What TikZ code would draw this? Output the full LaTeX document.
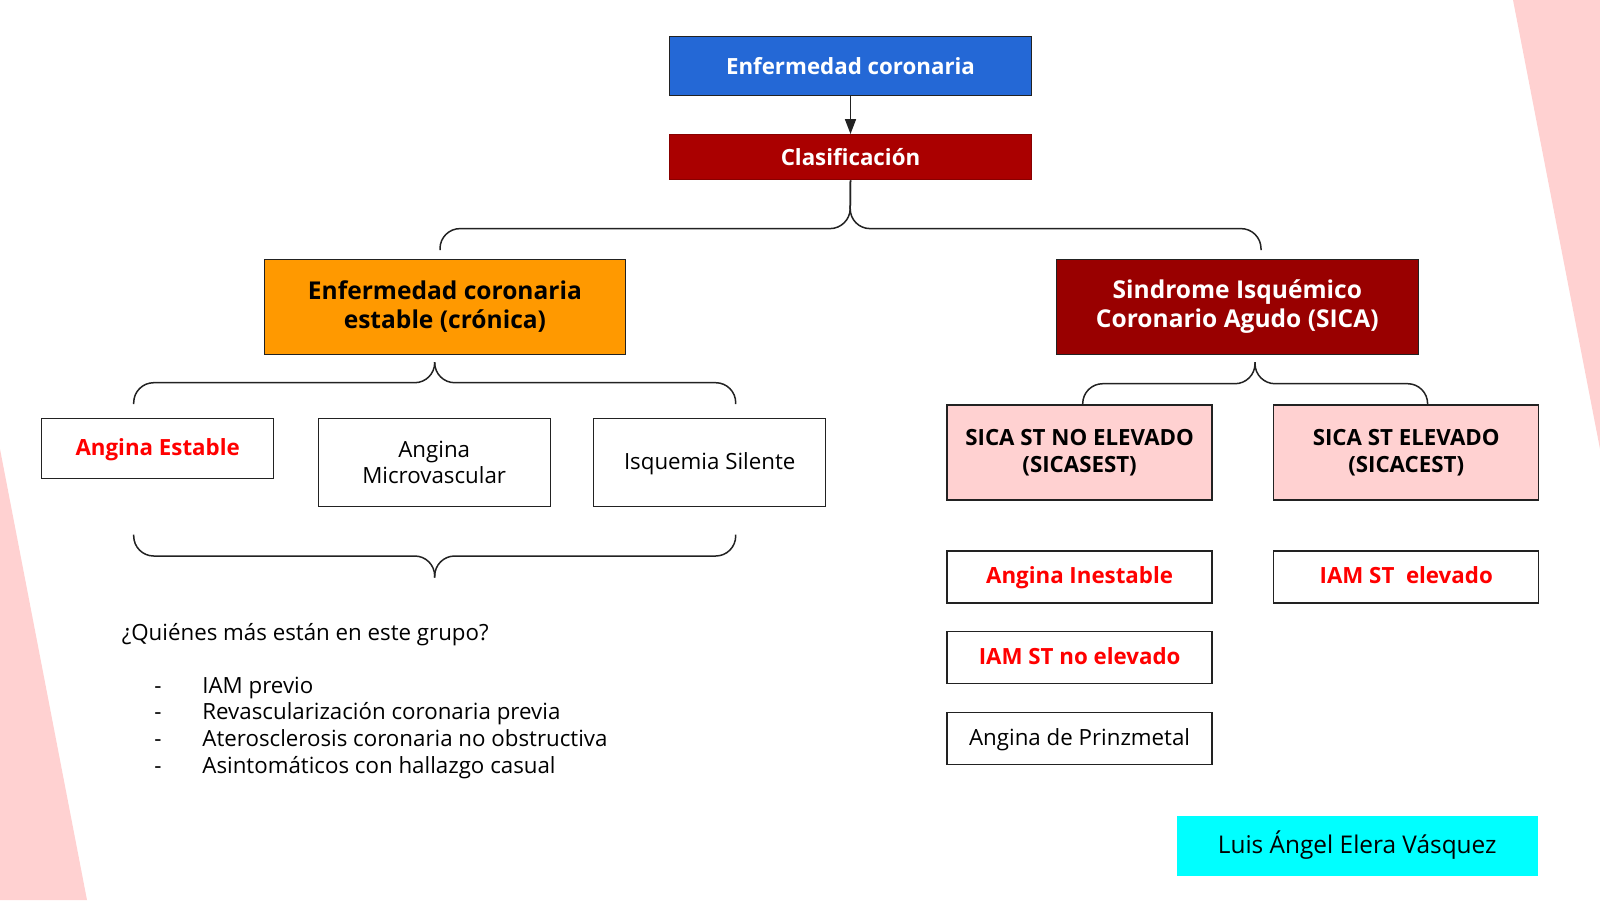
\documentclass[tikz,border=0pt]{standalone}
\usepackage{fontspec}
\setmainfont{Open Sans}
\usetikzlibrary{arrows.meta}
\definecolor{cblue}{HTML}{2468D6}
\definecolor{cred}{HTML}{AA0000}
\definecolor{corange}{HTML}{FF9900}
\definecolor{cdark}{HTML}{990000}
\definecolor{cpink}{HTML}{FFD1D1}
\definecolor{ccyan}{HTML}{00FFFF}
\definecolor{cline}{HTML}{222222}
\tikzset{
  box/.style={draw=cline, line width=0.65pt, inner sep=0pt, align=center},
  brc/.style={draw=cline, line width=0.75pt, rounded corners=10pt},
  hd/.style={font=\bfseries\fontsize{11.15}{14}\selectfont, text=white},
  big/.style={font=\bfseries\fontsize{12.27}{14.7}\selectfont},
  sm/.style={font=\bfseries\fontsize{11.15}{13.2}\selectfont},
  rg/.style={font=\fontsize{11.15}{13.2}\selectfont},
  redt/.style={sm, text=red},
  bw/.style={minimum width=116pt},
  rw/.style={minimum width=132.5pt},
  sl/.style={text height=0.76em, text depth=0.08em},
}
\begin{document}
\begin{tikzpicture}[x=0.5pt,y=-0.5pt]
\useasboundingbox (0,0) rectangle (1600,900);
% background decorations
\fill[cpink] (0,449) -- (87,900) -- (0,900) -- cycle;
\fill[cpink] (1513,0) -- (1600,0) -- (1600,449) -- cycle;

% top
\node[box, hd, fill=cblue, minimum width=181pt, minimum height=29.5pt] (top) at (850.5,66.3) {Enfermedad coronaria};
\node[box, hd, fill=cred, draw=cred!80!black, minimum width=181pt, minimum height=22.5pt] (clas) at (850.5,157.2) {Clasificación};
\draw[draw=cline, line width=0.8pt, -{Triangle[length=7.5pt,width=5.5pt]}] (top.south) -- (clas.north);

% level 2
\node[box, big, fill=corange, minimum width=180.5pt, minimum height=47.5pt] (est) at (444.9,306.7) {Enfermedad coronaria\\estable (crónica)};
\node[box, big, fill=cdark, text=white, minimum width=181pt, minimum height=47.5pt] (sica) at (1237.3,306.7) {Sindrome Isquémico\\Coronario Agudo (SICA)};

% brace 1
\coordinate (b1l) at (440,250);
\coordinate (b1r) at (1261,250);
\draw[brc] (clas.south) -- (850,228.6) -- (440,228.6) -- (b1l);
\draw[brc] (clas.south) -- (850,228.6) -- (1261,228.6) -- (b1r);

% level 3 left
\node[box, redt, bw, sl, minimum height=30pt] (ae) at (157.7,448.5) {Angina Estable};
\node[box, rg, bw, minimum height=44pt] (am) at (434.2,462.2) {Angina\\Microvascular};
\node[box, rg, bw, sl, minimum height=44pt] (isq) at (709.7,462.2) {Isquemia Silente};

% brace 2
\coordinate (b2t) at (434.7,362.2);
\coordinate (b2l) at (133.7,404);
\coordinate (b2r) at (735.7,404);
\draw[brc] (b2t) -- (434.7,382.7) -- (133.7,382.7) -- (b2l);
\draw[brc] (b2t) -- (434.7,382.7) -- (735.7,382.7) -- (b2r);

% brace 3
\coordinate (b3t) at (434.7,577.6);
\coordinate (b3l) at (133.7,534.7);
\coordinate (b3r) at (735.7,534.7);
\draw[brc] (b3t) -- (434.7,556) -- (133.7,556) -- (b3l);
\draw[brc] (b3t) -- (434.7,556) -- (735.7,556) -- (b3r);

% level 3 right
\node[box, sm, rw, fill=cpink, minimum height=47.5pt] (sn) at (1079.6,452.5) {SICA ST NO ELEVADO\\(SICASEST)};
\node[box, sm, rw, fill=cpink, minimum height=47.5pt] (se) at (1406.2,452.5) {SICA ST ELEVADO\\(SICACEST)};

% brace 4
\coordinate (b4t) at (1255,362.2);
\coordinate (b4l) at (1082.7,404);
\coordinate (b4r) at (1427.6,404);
\draw[brc] (b4t) -- (1255,383.7) -- (1082.7,383.7) -- (b4l);
\draw[brc] (b4t) -- (1255,383.7) -- (1427.6,383.7) -- (b4r);

% level 4 right
\node[box, redt, rw, sl, minimum height=26pt] (ai) at (1079.6,577) {Angina Inestable};
\node[box, redt, rw, sl, minimum height=26pt] (ise) at (1406.2,577) {IAM ST\ \ elevado};
\node[box, redt, rw, sl, minimum height=26pt] (ine) at (1079.6,657.7) {IAM ST no elevado};
\node[box, rg, rw, sl, minimum height=26pt] (pr) at (1079.6,738.3) {Angina de Prinzmetal};

% question and list
\node[rg, anchor=base west, inner sep=0pt] (q) at (121.4,640) {¿Quiénes más están en este grupo?};
\node[rg, anchor=base, inner sep=0pt] (d1) at (158,693) {-};
\node[rg, anchor=base, inner sep=0pt] (d2) at (158,719.5) {-};
\node[rg, anchor=base, inner sep=0pt] (d3) at (158,746) {-};
\node[rg, anchor=base, inner sep=0pt] (d4) at (158,773.5) {-};
\node[rg, anchor=base west, inner sep=0pt] (l1) at (202,693) {IAM previo};
\node[rg, anchor=base west, inner sep=0pt] (l2) at (202,719.5) {Revascularización coronaria previa};
\node[rg, anchor=base west, inner sep=0pt] (l3) at (202,746) {Aterosclerosis coronaria no obstructiva};
\node[rg, anchor=base west, inner sep=0pt] (l4) at (202,773.5) {Asintomáticos con hallazgo casual};

% author
\node[fill=ccyan, inner sep=0pt, sl, minimum width=180.5pt, minimum height=30pt, font=\fontsize{12.2}{14}\selectfont] (auth) at (1357.2,846.4) {Luis Ángel Elera Vásquez};
\end{tikzpicture}
\end{document}
